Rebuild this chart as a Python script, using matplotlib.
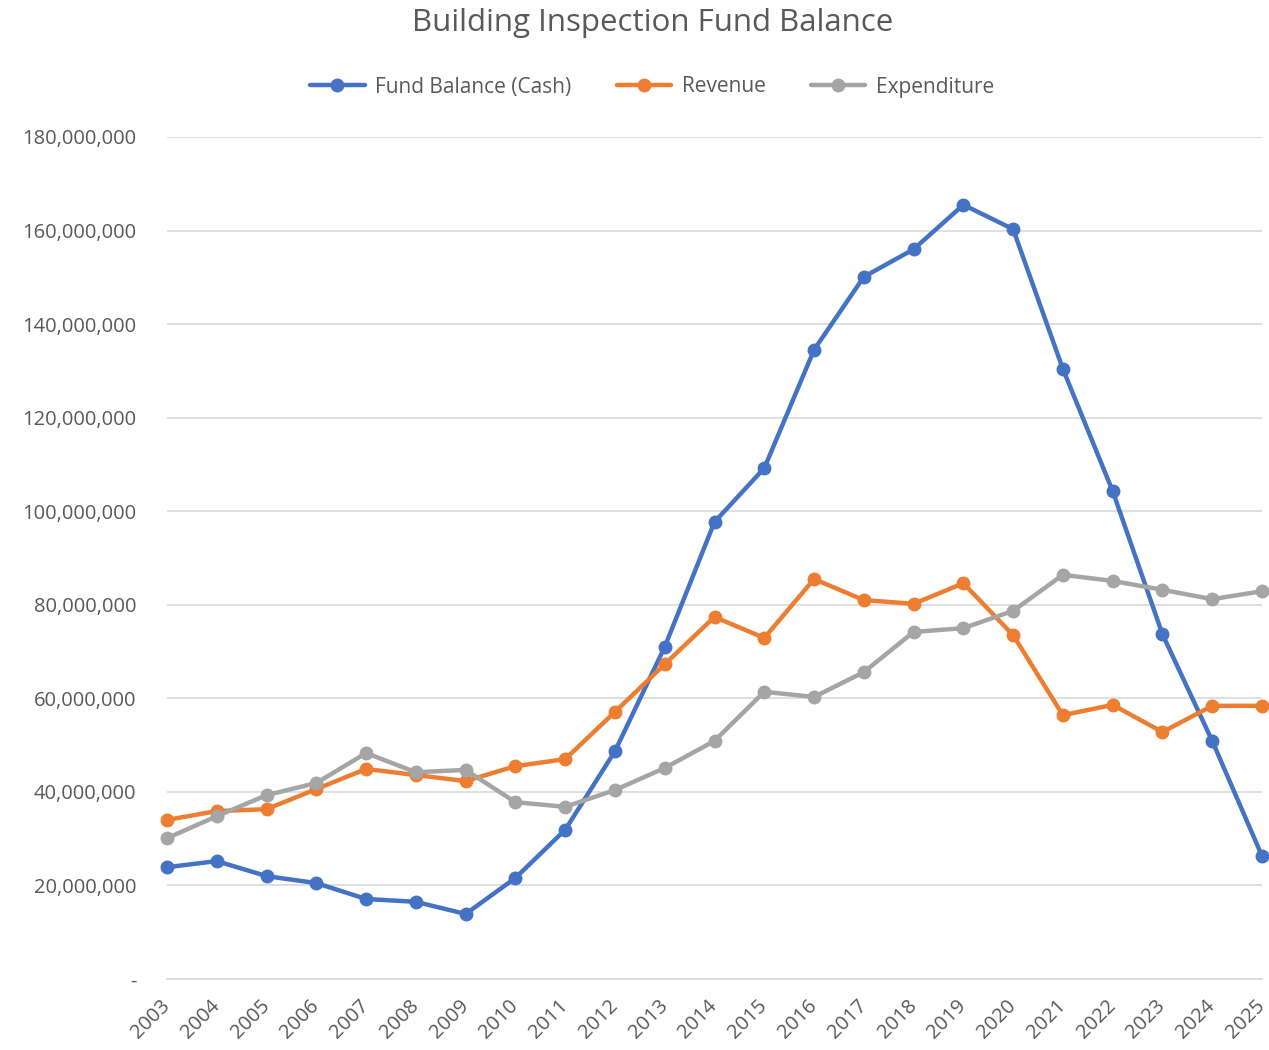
import matplotlib
matplotlib.use("Agg")
import matplotlib.pyplot as plt
from matplotlib.ticker import FuncFormatter

plt.rcParams['font.family'] = ['Open Sans', 'DejaVu Sans']

years = list(range(2003, 2026))

# dollars, in millions
fund_balance = [23.9, 25.2, 22.0, 20.5, 17.1, 16.5, 13.9, 21.6, 31.9, 48.7, 71.0, 97.7,
                109.2, 134.5, 150.1, 156.0, 165.5, 160.3, 130.4, 104.3, 73.7, 50.9, 26.3]
revenue = [34.0, 35.9, 36.3, 40.6, 44.9, 43.6, 42.3, 45.5, 47.0, 57.1, 67.3, 77.4,
           72.9, 85.5, 81.0, 80.2, 84.6, 73.5, 56.4, 58.6, 52.8, 58.4, 58.4]
expenditure = [30.1, 34.8, 39.3, 41.9, 48.3, 44.2, 44.7, 37.8, 36.8, 40.4, 45.1, 50.9,
               61.4, 60.3, 65.6, 74.2, 75.0, 78.7, 86.4, 85.1, 83.2, 81.2, 82.9]

series = [
    ("Fund Balance (Cash)", fund_balance, "#4472C4"),
    ("Revenue", revenue, "#ED7D31"),
    ("Expenditure", expenditure, "#A5A5A5"),
]

text_color = "#595959"

fig = plt.figure(figsize=(12.69, 10.5), dpi=100)
ax = fig.add_axes([167 / 1269, 1 - 979 / 1050, (1262 - 167) / 1269, (979 - 137) / 1050])

for name, vals, color in series:
    ax.plot(years, [v * 1e6 for v in vals], color=color, lw=3.2, marker="o",
            markersize=9, label=name, clip_on=False, solid_capstyle="round")

ax.set_xlim(2003, 2025)
ax.set_ylim(0, 180e6)
ax.set_yticks([i * 20e6 for i in range(10)])
ax.yaxis.set_major_formatter(FuncFormatter(lambda v, p: "-" if v == 0 else f"{v:,.0f}"))
ax.set_xticks(years)
# slanted years, anchored at their right-middle so the last one stays in frame
ax.set_xticklabels([str(y) for y in years], rotation=45, ha="right", va="center",
                   rotation_mode="anchor")

ax.grid(axis="y", color="#D9D9D9", lw=1.2)
ax.set_axisbelow(True)
for s in ["top", "right", "left"]:
    ax.spines[s].set_visible(False)
ax.spines["bottom"].set_color("#D9D9D9")
ax.spines["bottom"].set_linewidth(1.2)
ax.tick_params(axis="both", length=0, colors=text_color)
ax.tick_params(axis="y", labelsize=14.5, pad=22)
ax.tick_params(axis="x", labelsize=14.5, pad=17)

fig.text(0.514, 1 - 23 / 1050, "Building Inspection Fund Balance", ha="center",
         va="center", fontsize=22.5, color=text_color)
fig.legend(loc="center", bbox_to_anchor=(0.514, 1 - 87 / 1050), ncol=3, frameon=False,
           fontsize=15, labelcolor=text_color, handlelength=2.6, columnspacing=2.2,
           handletextpad=0.5)

fig.savefig("out.png", dpi=100)
plt.close()
